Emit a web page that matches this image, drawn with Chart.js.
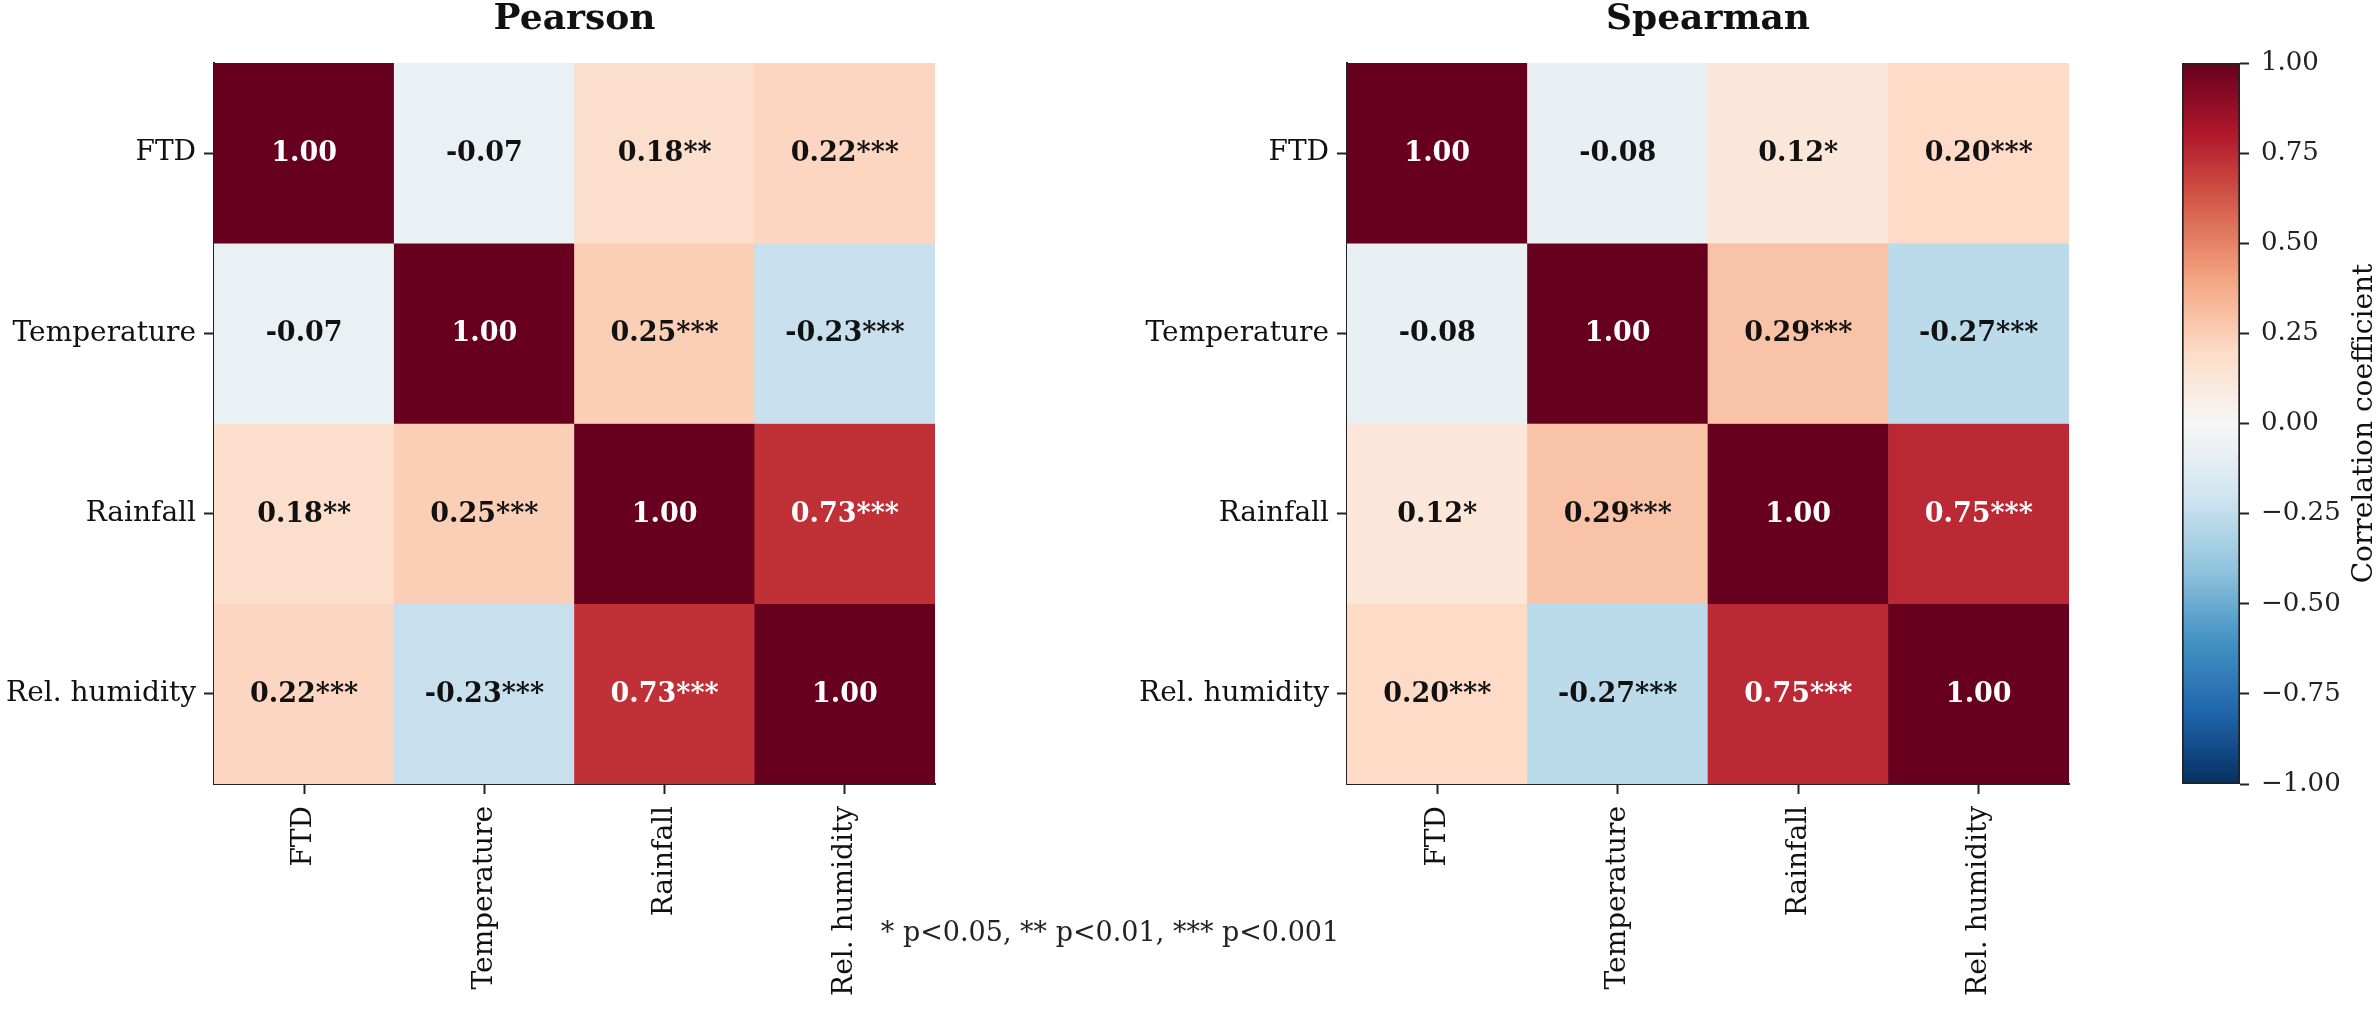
<!DOCTYPE html>
<html><head><meta charset="utf-8">
<script src="https://cdn.jsdelivr.net/npm/chart.js@4.4.1/dist/chart.umd.min.js"></script>
<style>
html,body{margin:0;padding:0;background:#fff;width:2377px;height:1017px;overflow:hidden;}
.box{position:absolute;top:0;height:1017px;}
#note{position:absolute;left:1110px;top:917px;transform:translateX(-50%);font-family:'DejaVu Serif';font-size:27px;line-height:30px;color:#222;white-space:nowrap;}
</style></head><body>
<div class="box" style="left:0;width:960px"><canvas id="pearson"></canvas></div>
<div class="box" style="left:1100px;width:994px"><canvas id="spearman"></canvas></div>
<div class="box" style="left:2140px;width:237px"><canvas id="cbar"></canvas></div>
<div id="note">* p&lt;0.05, ** p&lt;0.01, *** p&lt;0.001</div>
<script>
const categories = ['FTD', 'Temperature', 'Rainfall', 'Rel. humidity'];
const pearsonValues = [
  [1.00, -0.07, 0.18, 0.22],
  [-0.07, 1.00, 0.25, -0.23],
  [0.18, 0.25, 1.00, 0.73],
  [0.22, -0.23, 0.73, 1.00]
];
const pearsonStars = [
  ['', '', '**', '***'],
  ['', '', '***', '***'],
  ['**', '***', '', '***'],
  ['***', '***', '***', '']
];
const spearmanValues = [
  [1.00, -0.08, 0.12, 0.20],
  [-0.08, 1.00, 0.29, -0.27],
  [0.12, 0.29, 1.00, 0.75],
  [0.20, -0.27, 0.75, 1.00]
];
const spearmanStars = [
  ['', '', '*', '***'],
  ['', '', '***', '***'],
  ['*', '***', '', '***'],
  ['***', '***', '***', '']
];
const colorbarTicks = [-1, -0.75, -0.5, -0.25, 0, 0.25, 0.5, 0.75, 1];
const panelTitles = ['Pearson', 'Spearman'];
const colorbarLabel = 'Correlation coefficient';

const RdBu_r = ['#053061','#2166ac','#4393c3','#92c5de','#d1e5f0','#f7f7f7','#fddbc7','#f4a582','#d6604d','#b2182b','#67001f'];
function hex(c){return [parseInt(c.slice(1,3),16),parseInt(c.slice(3,5),16),parseInt(c.slice(5,7),16)];}
function cmap(v){
  let t = (v + 1) / 2 * 10;
  let i = Math.min(9, Math.max(0, Math.floor(t)));
  let f = t - i;
  const a = hex(RdBu_r[i]), b = hex(RdBu_r[i+1]);
  const c = a.map((x,k)=>Math.round(x + (b[k]-x)*f));
  return 'rgb(' + c.join(',') + ')';
}
const FONT = 'DejaVu Serif';
const INK = '#222';

function makeHeatmap(id, values, stars, title, yWidth) {
  const datasets = values.map((row, r) => ({
    data: categories.map(() => [r, r + 1]),
    backgroundColor: row.map(cmap),
    borderWidth: 0,
    grouped: false,
    barPercentage: 1,
    categoryPercentage: 1
  }));
  const annot = {
    id: 'annot' + id,
    afterDatasetsDraw(chart) {
      const ctx = chart.ctx, xs = chart.scales.x, ys = chart.scales.y;
      ctx.save();
      ctx.font = 'bold 27px "' + FONT + '"';
      ctx.textAlign = 'center';
      ctx.textBaseline = 'middle';
      values.forEach((row, r) => row.forEach((v, c) => {
        ctx.fillStyle = Math.abs(v) > 0.5 ? '#ffffff' : '#111111';
        ctx.fillText(v.toFixed(2) + stars[r][c], xs.getPixelForValue(c), ys.getPixelForValue(r + 0.5) + 1);
      }));
      ctx.restore();
    },
    afterDraw(chart) {
      const ctx = chart.ctx, a = chart.chartArea;
      ctx.save();
      ctx.font = 'bold 36px "' + FONT + '"';
      ctx.fillStyle = '#111';
      ctx.textAlign = 'center';
      ctx.textBaseline = 'alphabetic';
      ctx.fillText(title, (a.left + a.right) / 2, 29);
      ctx.restore();
    }
  };
  return new Chart(document.getElementById(id), {
    type: 'bar',
    data: { labels: categories, datasets },
    plugins: [annot],
    options: {
      responsive: true, maintainAspectRatio: false, animation: false,
      layout: { padding: { top: 63, right: 25, left: 0, bottom: 0 } },
      plugins: { legend: { display: false }, tooltip: { enabled: false }, title: { display: false } },
      scales: {
        x: {
          type: 'category', offset: true, z: 1,
          afterFit: s => { s.height = 233; },
          grid: { offset: false, drawOnChartArea: false, drawTicks: true, tickLength: 10, tickWidth: 2, tickColor: INK },
          border: { display: true, color: INK, width: 2 },
          ticks: { minRotation: 90, maxRotation: 90, autoSkip: false, padding: 12, color: '#111', font: { family: FONT, size: 28 } }
        },
        y: {
          type: 'linear', min: 0, max: 4, reverse: true, z: 1,
          afterBuildTicks: s => { s.ticks = categories.map((_, i) => ({ value: i + 0.5 })); },
          afterFit: s => { s.width = yWidth; },
          grid: { drawOnChartArea: false, drawTicks: true, tickLength: 10, tickWidth: 2, tickColor: INK },
          border: { display: true, color: INK, width: 2 },
          ticks: { autoSkip: false, padding: 8, color: '#111', font: { family: FONT, size: 28 },
                   callback: v => categories[Math.floor(v)] }
        }
      }
    }
  });
}

makeHeatmap('pearson', pearsonValues, pearsonStars, panelTitles[0], 214);
makeHeatmap('spearman', spearmanValues, spearmanStars, panelTitles[1], 247);

const cbLabelPlugin = {
  id: 'cblabel',
  afterDraw(chart) {
    const ctx = chart.ctx, a = chart.chartArea;
    ctx.save();
    ctx.font = '28px "' + FONT + '"';
    ctx.fillStyle = '#111';
    ctx.textAlign = 'center';
    ctx.textBaseline = 'alphabetic';
    ctx.translate(2372 - 2140, (a.top + a.bottom) / 2);
    ctx.rotate(-Math.PI / 2);
    ctx.fillText(colorbarLabel, 0, 0);
    ctx.restore();
  }
};

new Chart(document.getElementById('cbar'), {
  type: 'bar',
  data: { labels: [''], datasets: [{
    data: [[-1, 1]],
    backgroundColor: (c) => {
      const a = c.chart.chartArea;
      if (!a) return '#f7f7f7';
      const g = c.chart.ctx.createLinearGradient(0, a.bottom, 0, a.top);
      RdBu_r.forEach((col, i) => g.addColorStop(i / 10, col));
      return g;
    },
    borderColor: INK, borderWidth: 2, borderSkipped: false,
    barPercentage: 1, categoryPercentage: 1
  }] },
  plugins: [cbLabelPlugin],
  options: {
    responsive: true, maintainAspectRatio: false, animation: false,
    layout: { padding: { top: 63, bottom: 233, left: 42, right: 0 } },
    plugins: { legend: { display: false }, tooltip: { enabled: false } },
    scales: {
      x: { display: false },
      y: {
        position: 'right', min: -1, max: 1,
        afterBuildTicks: s => { s.ticks = colorbarTicks.map(v => ({ value: v })); },
        afterFit: s => { s.width = 137; },
        grid: { drawOnChartArea: false, drawTicks: true, tickLength: 9, tickWidth: 2, tickColor: INK },
        border: { display: false },
        ticks: { padding: 12, color: INK, font: { family: FONT, size: 26 },
                 callback: v => (v < 0 ? '\u2212' : '') + Math.abs(v).toFixed(2) }
      }
    }
  }
});
</script>
</body></html>
